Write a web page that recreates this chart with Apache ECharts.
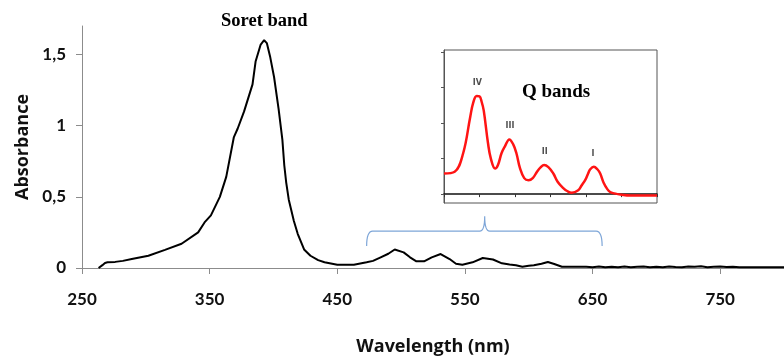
<!DOCTYPE html>
<html><head><meta charset="utf-8">
<script src="https://cdn.jsdelivr.net/npm/echarts@6/dist/echarts.min.js"></script>
<style>html,body{margin:0;padding:0;background:#fff}#c{width:784px;height:361px}</style>
</head><body><div id="c"></div>
<script>
// Main spectrum
const wavelength = [263,266,268,270,276,282,289,302,315,328,341,346,351,358,363,369,372,377,383.6,386,390,392.7,394.8,397.5,400.5,404,407,408.5,410,412,416,419,424,429,435,440,450,463,473,478,484,490,495,502,507,512,518,524,531,538,543,548,556,564,572,579,585,590,595,600,604,610,615,620,626,636,645,
  650,655,660,665,670,675,680,685,690,695,700,705,710,715,720,725,730,735,740,745,750,755,760,765,770,775,780,785,790,795,800];
const absorbance = [0,0.02,0.035,0.04,0.043,0.05,0.063,0.086,0.127,0.17,0.25,0.32,0.37,0.5,0.64,0.92,0.98,1.1,1.29,1.45,1.57,1.6,1.58,1.48,1.34,1.12,0.9,0.72,0.6,0.48,0.33,0.24,0.13,0.086,0.055,0.04,0.023,0.023,0.04,0.05,0.075,0.1,0.13,0.11,0.075,0.047,0.047,0.075,0.098,0.063,0.03,0.023,0.04,0.07,0.06,0.033,0.025,0.019,0.009,0.015,0.019,0.03,0.042,0.028,0.009,0.009,0.008,
  0.006,0.01,0.005,0.009,0.006,0.011,0.005,0.008,0.01,0.006,0.009,0.005,0.011,0.007,0.006,0.01,0.008,0.012,0.006,0.009,0.011,0.007,0.008,0.006,0.006,0.006,0.006,0.006,0.006,0.006,0.006];
const xTicks = [250,350,450,550,650,750];
const yTicks = [0,0.5,1,1.5];

// Inset (Q bands)
const insetWavelength = [450,465,477,487,491,496,500,503,506,512,516,522,526,531,536,542,547.5,552,557,563,569,575,581,586,591,597,604,610,618,624,630,639,644,649,653,656,661,666,670,675,680,684,690,695,700,712,730,750];
const insetAbs = [0.058,0.063,0.115,0.218,0.256,0.276,0.275,0.26,0.235,0.143,0.10,0.072,0.082,0.115,0.135,0.154,0.14,0.115,0.073,0.045,0.039,0.045,0.063,0.075,0.082,0.076,0.058,0.035,0.017,0.008,0.004,0.011,0.025,0.04,0.058,0.07,0.077,0.07,0.058,0.031,0.014,0.006,0.002,0,-0.002,-0.004,-0.004,-0.004];
const insetYTicks = [0,0.1,0.2,0.3,0.4];
const peakNames = ['IV','III','II','I'];
const peakWl = [497,543,592,660];
const peakAbs = [0.276,0.154,0.082,0.077];
const bracketWl = [473,565.5,657.5];

const chart = echarts.init(document.getElementById('c'));
const axisGray = '#8c8c8c';
const option = {
  animation: false,
  backgroundColor: '#fff',
  grid: [
    {left: 82, top: 26, width: 709, height: 243},
    {left: 444, top: 50, width: 213, height: 153, show: true, borderColor: '#555', borderWidth: 1, backgroundColor: '#fff', z: 5}
  ],
  xAxis: [
    {type: 'value', gridIndex: 0, min: 250, max: 800,
     name: 'Wavelength (nm)', nameLocation: 'middle', nameGap: 70,
     nameTextStyle: {fontFamily: 'Open Sans', fontWeight: 'bold', fontSize: 18, color: '#111'},
     axisLine: {lineStyle: {color: axisGray, width: 1}},
     axisTick: {customValues: xTicks, length: 6, lineStyle: {color: axisGray}},
     axisLabel: {customValues: xTicks, margin: 23, fontFamily: 'Lato', fontWeight: 'bold', fontSize: 17, color: '#111'},
     splitLine: {show: false}},
    {type: 'value', gridIndex: 1, min: 450, max: 750, interval: 50,
     axisLine: {lineStyle: {color: '#111', width: 1.5}},
     axisTick: {length: 3, inside: false, lineStyle: {color: '#333'}},
     axisLabel: {show: false}, splitLine: {show: false}, z: 6}
  ],
  yAxis: [
    {type: 'value', gridIndex: 0, min: 0, max: 1.7,
     name: 'Absorbance', nameLocation: 'middle', nameGap: 49,
     nameTextStyle: {fontFamily: 'Open Sans', fontWeight: 'bold', fontSize: 18, color: '#111'},
     axisLine: {show: true, lineStyle: {color: axisGray, width: 1}},
     axisTick: {show: true, customValues: yTicks, length: 6, lineStyle: {color: axisGray}},
     axisLabel: {customValues: yTicks, margin: 16, fontFamily: 'Lato', fontWeight: 'bold', fontSize: 17, color: '#111',
       formatter: v => String(v).replace('.', ',')},
     splitLine: {show: false}},
    {type: 'value', gridIndex: 1, min: -0.025, max: 0.4056,
     axisLine: {show: true, lineStyle: {color: '#555', width: 1}},
     axisTick: {show: true, customValues: insetYTicks, length: 3, lineStyle: {color: '#555'}},
     axisLabel: {show: false}, splitLine: {show: false}, z: 6}
  ],
  series: [
    {type: 'line', xAxisIndex: 0, yAxisIndex: 0, showSymbol: false, smooth: false,
     lineStyle: {color: '#000', width: 2}, data: wavelength.map((w, i) => [w, absorbance[i]]), z: 3},
    {type: 'line', xAxisIndex: 1, yAxisIndex: 1, showSymbol: false, smooth: 0.4,
     lineStyle: {color: '#ff1414', width: 2.5}, data: insetWavelength.map((w, i) => [w, insetAbs[i]]), z: 7},
    {type: 'scatter', xAxisIndex: 1, yAxisIndex: 1, symbolSize: 0, z: 8,
     data: peakWl.map((w, i) => [w, peakAbs[i], peakNames[i]]),
     label: {show: true, position: 'top', distance: 9, formatter: p => p.value[2],
       fontFamily: 'DejaVu Sans', fontWeight: 'bold', fontSize: 8, color: '#222'}}
  ],
  graphic: [
    {type: 'text', left: 221, top: 12, z: 10,
     style: {text: 'Soret band', font: 'bold 18.5px "Liberation Serif"', fill: '#000'}},
    {type: 'text', left: 522, top: 83, z: 10,
     style: {text: 'Q bands', font: 'bold 19px "Liberation Serif"', fill: '#000'}}
  ]
};
chart.setOption(option);

// bracket under the Q-band region, positioned through the main axes
const pL = chart.convertToPixel({gridIndex: 0}, [bracketWl[0], 0.154]);
const pM = chart.convertToPixel({gridIndex: 0}, [bracketWl[1], 0.259]);
const pR = chart.convertToPixel({gridIndex: 0}, [bracketWl[2], 0.154]);
const pT = chart.convertToPixel({gridIndex: 0}, [bracketWl[1], 0.364]);
const yH = pM[1], yB = pL[1], yT = pT[1];
const xL = pL[0], xM = pM[0], xR = pR[0];
function quad(p0, c, p1, n) {
  const out = [];
  for (let k = 1; k <= n; k++) {
    const t = k / n, u = 1 - t;
    out.push([u*u*p0[0] + 2*u*t*c[0] + t*t*p1[0], u*u*p0[1] + 2*u*t*c[1] + t*t*p1[1]]);
  }
  return out;
}
let pts = [[xL, yB]];
pts = pts.concat(quad([xL, yB], [xL, yH], [xL + 6, yH], 8));
pts.push([xM - 5, yH]);
pts = pts.concat(quad([xM - 5, yH], [xM, yH], [xM, yT], 8));
pts = pts.concat(quad([xM, yT], [xM, yH], [xM + 5, yH], 8));
pts.push([xR - 6, yH]);
pts = pts.concat(quad([xR - 6, yH], [xR, yH], [xR, yB], 8));
chart.setOption({graphic: option.graphic.concat([
  {type: 'polyline', z: 10, shape: {points: pts}, style: {stroke: '#7ea6d8', lineWidth: 1.2, fill: null}}
])});
</script>
</body></html>
